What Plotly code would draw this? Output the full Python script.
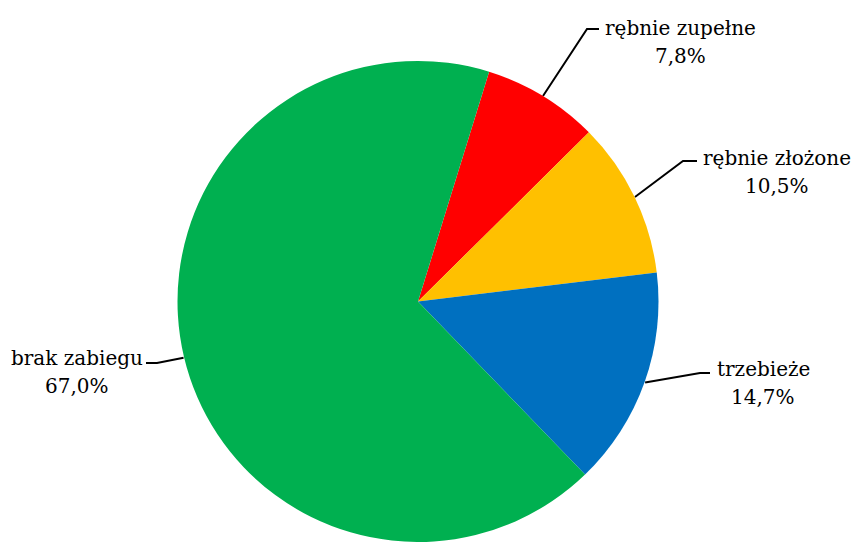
import math
import plotly.graph_objects as go

# Share of treatment types (percent)
labels = ["rębnie zupełne", "rębnie złożone", "trzebieże", "brak zabiegu"]
shares = [7.8, 10.5, 14.7, 67.0]
colors = ["#FF0000", "#FFC000", "#0070C0", "#00B050"]

W, H = 857, 542
CX, CY, R = 418, 302, 241
START_DEG = 17.2  # first slice starts this many degrees clockwise from 12 o'clock

# leader-line elbows, horizontal tails and label positions (pixels)
elbows = [(587, 29), (683, 161), (700, 373), (157, 363)]
tails = [(599, 29), (697, 161), (710, 373), (146, 363)]
label_x = [680, 777, 763, 77]
name_y = [28, 158, 369, 358]
LINE_GAP = 28

FONT = "DejaVu Serif"
FONT_SIZE = 20

fig = go.Figure()

fig.add_trace(go.Pie(
    labels=labels,
    values=shares,
    sort=False,
    direction="clockwise",
    rotation=START_DEG,
    marker=dict(colors=colors, line=dict(width=0)),
    textinfo="none",
    hoverinfo="none",
    showlegend=False,
    domain=dict(x=[(CX - R) / W, (CX + R) / W], y=[0, 1 - (CY - R) / H]),
))

total = sum(shares)
cum = 0.0
for i, (lab, v) in enumerate(zip(labels, shares)):
    mid = math.radians(START_DEG + (cum + v / 2) / total * 360)
    cum += v
    ex, ey = CX + R * math.sin(mid), CY - R * math.cos(mid)
    fig.add_trace(go.Scatter(
        x=[ex, elbows[i][0], tails[i][0]],
        y=[ey, elbows[i][1], tails[i][1]],
        mode="lines",
        line=dict(color="black", width=2),
        hoverinfo="skip",
        showlegend=False,
    ))
    pct = f"{v:.1f}".replace(".", ",") + "%"
    for k, txt in enumerate([lab, pct]):
        fig.add_annotation(
            x=label_x[i], y=name_y[i] + k * LINE_GAP,
            xref="x", yref="y",
            text=txt,
            showarrow=False,
            xanchor="center", yanchor="middle",
            font=dict(family=FONT, size=FONT_SIZE, color="#000000"),
        )

fig.update_layout(
    width=W, height=H,
    margin=dict(l=0, r=0, t=0, b=0),
    paper_bgcolor="white",
    plot_bgcolor="rgba(0,0,0,0)",
    font=dict(family=FONT),
    xaxis=dict(range=[0, W], visible=False, domain=[0, 1], fixedrange=True),
    yaxis=dict(range=[H, 0], visible=False, domain=[0, 1], fixedrange=True),
)

fig.write_html("out.html")
